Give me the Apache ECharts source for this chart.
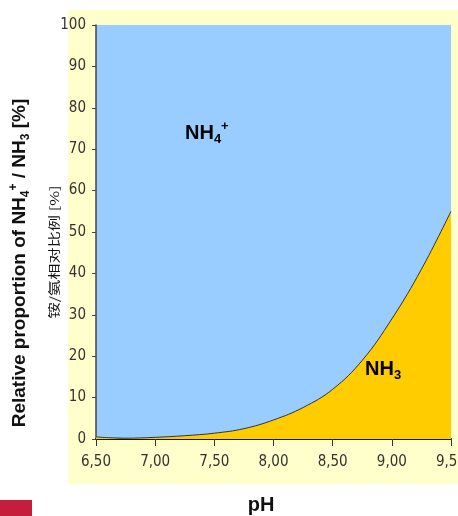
<!DOCTYPE html>
<html>
<head>
<meta charset="utf-8">
<script src="https://cdn.jsdelivr.net/npm/echarts@6/dist/echarts.min.js"></script>
<style>
  html, body { margin: 0; padding: 0; background: #fff; }
  #chart { width: 458px; height: 516px; }
</style>
</head>
<body>
<div id="chart"></div>
<script>
// pH on the x axis, share of NH3 in % (the rest is NH4+)
const phValues = [6.5, 6.75, 7.0, 7.25, 7.5, 7.75, 8.0, 8.25, 8.5, 8.75, 9.0, 9.25, 9.5];
const nh3Share = [0.5, 0.2, 0.4, 0.8, 1.4, 2.5, 4.6, 7.6, 12, 19, 29, 41, 55];
const yTicks = [0, 10, 20, 30, 40, 50, 60, 70, 80, 90, 100];

var myChart = echarts.init(document.getElementById('chart'), null, { renderer: 'canvas' });

var labelFont = '"Liberation Sans Narrow", "DejaVu Sans Condensed", sans-serif';

var option = {
    animation: false,
    backgroundColor: '#fff',
    grid: {
        left: 96,
        right: 7,
        top: 25,
        bottom: 77,
        outerBoundsMode: 'none',
        show: true,
        backgroundColor: '#99CCFF',
        borderWidth: 0
    },
    xAxis: {
        type: 'value',
        min: 6.5,
        max: 9.5,
        interval: 0.5,
        splitLine: { show: false },
        axisLine: { lineStyle: { color: '#111', width: 2 } },
        axisTick: { show: true, length: 7, lineStyle: { color: '#333', width: 1 } },
        axisLabel: {
            margin: 16,
            fontFamily: labelFont,
            fontSize: 15,
            color: '#333',
            formatter: function (v) {
                return v.toFixed(2).replace('.', ',');
            }
        }
    },
    yAxis: {
        type: 'value',
        min: yTicks[0],
        max: yTicks[yTicks.length - 1],
        interval: 10,
        splitLine: { show: false },
        axisLine: { show: true, lineStyle: { color: '#444', width: 1.5 } },
        axisTick: { show: true, length: 4, lineStyle: { color: '#444' } },
        axisLabel: {
            margin: 10,
            fontFamily: labelFont,
            fontSize: 15,
            color: '#333'
        }
    },
    series: [
        {
            name: 'NH3',
            type: 'line',
            smooth: 0.4,
            symbol: 'none',
            lineStyle: { color: '#333', width: 1 },
            areaStyle: { color: '#FFCC00', opacity: 1 },
            data: phValues.map(function (p, i) { return [p, nh3Share[i]]; })
        }
    ],
    graphic: [
        {
            type: 'rect',
            z: -10,
            shape: { x: 68, y: 10, width: 390, height: 474 },
            style: { fill: '#FFFFCC' }
        },
        {
            type: 'rect',
            shape: { x: 0, y: 500, width: 32, height: 16 },
            style: { fill: '#C41E3A' }
        },
        {
            type: 'text',
            z: 100,
            x: 20,
            y: 263,
            rotation: Math.PI / 2,
            style: {
                text: 'Relative proportion of NH{s|4}{p|+} / NH{s|3} [%]',
                font: 'bold 19px Arial, "Liberation Sans", sans-serif',
                fill: '#111',
                align: 'center',
                verticalAlign: 'middle',
                lineHeight: 24,
                rich: {
                    s: { fontSize: 12, fontWeight: 'bold', lineHeight: 12, verticalAlign: 'bottom', fill: '#111' },
                    p: { fontSize: 12, fontWeight: 'bold', lineHeight: 12, verticalAlign: 'top', fill: '#111' }
                }
            }
        },
        {
            type: 'text',
            z: 100,
            x: 54,
            y: 252,
            rotation: Math.PI / 2,
            scaleX: 1.35,
            style: {
                text: '铵/氨相对比例 [%]',
                font: '12px "Noto Sans CJK SC", sans-serif',
                fill: '#111',
                align: 'center',
                verticalAlign: 'middle'
            }
        },
        {
            type: 'text',
            z: 100,
            x: 185,
            y: 133,
            style: {
                text: 'NH{s|4}{p|+}',
                font: 'bold 20px Arial, "Liberation Sans", sans-serif',
                fill: '#000',
                verticalAlign: 'middle',
                lineHeight: 26,
                rich: {
                    s: { fontSize: 13, fontWeight: 'bold', lineHeight: 13, verticalAlign: 'bottom', fill: '#000' },
                    p: { fontSize: 13, fontWeight: 'bold', lineHeight: 13, verticalAlign: 'top', fill: '#000' }
                }
            }
        },
        {
            type: 'text',
            z: 100,
            x: 365,
            y: 369,
            style: {
                text: 'NH{s|3}',
                font: 'bold 20px Arial, "Liberation Sans", sans-serif',
                fill: '#000',
                verticalAlign: 'middle',
                lineHeight: 26,
                rich: {
                    s: { fontSize: 13, fontWeight: 'bold', lineHeight: 13, verticalAlign: 'bottom', fill: '#000' }
                }
            }
        },
        {
            type: 'text',
            z: 100,
            x: 261,
            y: 505,
            style: {
                text: 'pH',
                font: 'bold 20px Arial, "Liberation Sans", sans-serif',
                fill: '#111',
                align: 'center',
                verticalAlign: 'middle'
            }
        }
    ]
};

myChart.setOption(option);

window.addEventListener('resize', () => {
    myChart.resize();
});
</script>
</body>
</html>
